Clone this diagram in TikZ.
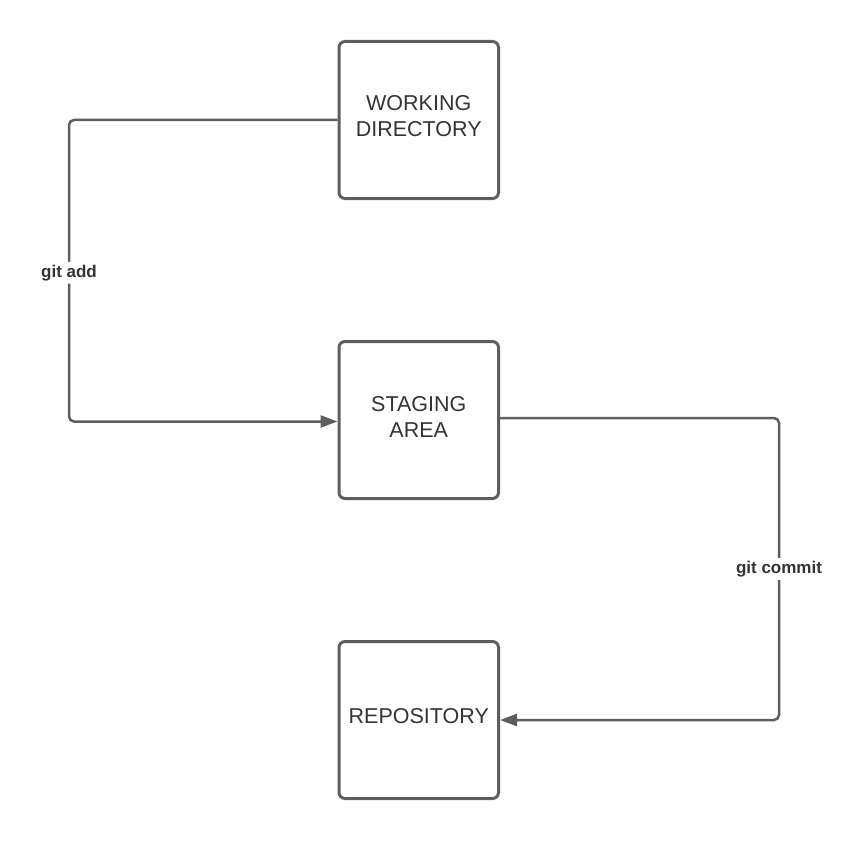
\documentclass[tikz,border=0pt]{standalone}
\usepackage{fontspec}
\setmainfont{Liberation Sans}
\usetikzlibrary{arrows.meta}
\definecolor{linegray}{HTML}{5E5E5E}
\definecolor{textgray}{HTML}{333333}
\begin{document}
\begin{tikzpicture}[x=1pt,y=-1pt,
  box/.style={draw=linegray, line width=3pt, rounded corners=6pt,
    minimum width=159.5pt, minimum height=157pt, inner sep=0pt},
  boxtxt/.style={text=textgray, font=\fontsize{21.5}{26}\selectfont,
    align=center, inner sep=0pt},
  conn/.style={draw=linegray, line width=2.5pt, rounded corners=5pt,
    -{Triangle[length=17pt,width=12pt]}},
  lbl/.style={fill=white, text=textgray,
    font=\fontsize{17}{20}\selectfont\bfseries, inner sep=3pt}]
\useasboundingbox (0,0) rectangle (864,840);
\node[box] (wd) at (418.75,120) {};
\node[box] (sa) at (418.75,420) {};
\node[box] (repo) at (418.75,720) {};
\node[boxtxt] (wdt) at ([yshift=3.5pt]wd.center) {WORKING\\DIRECTORY};
\node[boxtxt] (sat) at ([yshift=3.5pt]sa.center) {STAGING\\AREA};
\node[boxtxt] (repot) at ([yshift=3.5pt]repo.center) {REPOSITORY};
\coordinate (c1) at (69,0);
\coordinate (c2) at (779,0);
\draw[conn] (wd.west) -- (wd.west -| c1)
  -- node[lbl, yshift=-2pt] {git add} ([yshift=-1.5pt]sa.west -| c1)
  -- ([yshift=-1.5pt]sa.west);
\draw[conn] ([yshift=2pt]sa.east) -- ([yshift=2pt]sa.east -| c2)
  -- node[lbl] {git commit} (repo.east -| c2)
  -- (repo.east);
\end{tikzpicture}
\end{document}
